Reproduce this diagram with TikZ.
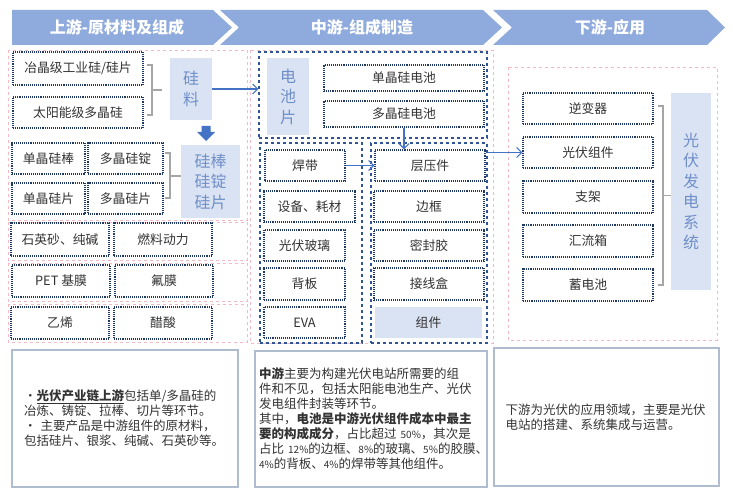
\documentclass[tikz,border=0pt]{standalone}
\usepackage{fontspec}
\setmainfont{Noto Sans CJK SC}
\usetikzlibrary{arrows.meta}

\definecolor{bannerblue}{HTML}{8FAADC}
\definecolor{tagfill}{HTML}{DAE3F3}
\definecolor{tagtext}{HTML}{6F8FC8}
\definecolor{navydot}{HTML}{203864}
\definecolor{navydash}{HTML}{2F5597}
\definecolor{zonepink}{HTML}{F4B9C5}
\definecolor{bracegray}{HTML}{A6A6A6}
\definecolor{flowblue}{HTML}{4472C4}
\definecolor{notegray}{HTML}{B0BDD0}
\definecolor{inkgray}{HTML}{333333}

\newcommand{\pct}[1]{{\fontsize{10}{12}\selectfont #1}}

\begin{document}
\begin{tikzpicture}[x=1pt,y=-1pt,
    wh/.style 2 args={minimum width=#1pt, minimum height=#2pt},
    head/.style={text=white, font=\fontsize{16}{18}\selectfont\bfseries},
    item/.style={draw=navydot, densely dotted, line width=1.1pt, inner sep=0pt, text=inkgray, font=\fontsize{12.8}{15}\selectfont},
    tag/.style={fill=tagfill, inner sep=0pt, align=center, text=tagtext, font=\fontsize{16}{20.5}\selectfont},
    group/.style={draw=navydash, dashed, line width=1.1pt, inner sep=0pt},
    zone/.style={draw=zonepink, dashed, line width=0.8pt},
    brace/.style={draw=bracegray, line width=1.4pt},
    flow/.style={draw=flowblue, line width=1.2pt, -{Straight Barb[length=5pt,width=10pt]}},
    note/.style={draw=notegray, line width=1.3pt, inner sep=0pt, align=left, text=inkgray, font=\fontsize{12.5}{15}\selectfont}
]

    \useasboundingbox (0,0) rectangle (733,497);

    \def \btop {10}
    \def \bmid {27.5}
    \def \bbot {45}

    % Banners
    \fill[bannerblue] (12,\btop) -- (213,\btop) -- (232,\bmid) -- (213,\bbot) -- (12,\bbot) -- cycle;
    \fill[bannerblue] (220,\btop) -- (483,\btop) -- (502,\bmid) -- (483,\bbot) -- (220,\bbot) -- (239,\bmid) -- cycle;
    \fill[bannerblue] (493,\btop) -- (707,\btop) -- (725,\bmid) -- (707,\bbot) -- (493,\bbot) -- (512,\bmid) -- cycle;
    \node[head] (up) at (117,\bmid) {上游-原材料及组成};
    \node[head] (mid) at (362,\bmid) {中游-组成制造};
    \node[head] (down) at (610,\bmid) {下游-应用};

    % Upstream: pink zones
    \draw[zone] (8,50) rectangle (247,220);
    \draw[zone] (8,222) rectangle (247,260);
    \draw[zone] (8,263) rectangle (247,301);
    \draw[zone] (8,304) rectangle (247,342);

    % Upstream: silicon
    \node[item, wh={130}{33}] (gy) at (78,68.5) {冶晶级工业硅/硅片};
    \node[item, wh={130}{31}] (tyn) at (78,112.5) {太阳能级多晶硅};
    \node[tag, wh={42}{62}] (gl) at (191,89) {硅\\料};
    \draw[brace] (147,65) -- (152,65) -- (152,115) -- (147,115);
    \draw[brace] (152,90) -- (162,90);

    \fill[flowblue] (201.5,126) -- (210.5,126) -- (210.5,132) -- (215,132) -- (206,141) -- (197,132) -- (201.5,132) -- cycle;

    \node[item, wh={73}{31}] (dgb) at (48.5,158.5) {单晶硅棒};
    \node[item, wh={75}{31}] (dgd) at (125.5,158.5) {多晶硅锭};
    \node[item, wh={73}{31}] (dgp) at (48.5,198.5) {单晶硅片};
    \node[item, wh={75}{31}] (dgq) at (125.5,198.5) {多晶硅片};
    \node[tag, wh={59}{73}] (gbd) at (210.5,181.5) {硅棒\\硅锭\\硅片};
    \draw[brace] (165,153) -- (170,153) -- (170,198) -- (165,198);
    \draw[brace] (170,176) -- (181,176);

    % Upstream: other materials
    \node[item, wh={98}{33}] (sy) at (60,239.5) {石英砂、纯碱};
    \node[item, wh={98}{33}] (rl) at (163,239.5) {燃料动力};
    \node[item, wh={98}{32}] (pet) at (61,281) {PET 基膜};
    \node[item, wh={98}{32}] (fm) at (164,281) {氟膜};
    \node[item, wh={98}{32}] (yx) at (60,323) {乙烯};
    \node[item, wh={98}{32}] (cs) at (163,323) {醋酸};

    % Midstream
    \draw[zone] (250,50) rectangle (493,343);
    \node[group, wh={228}{86}] (cellgrp) at (373,95) {};
    \node[group, wh={102}{200}] (matgrp) at (311,243) {};
    \node[group, wh={116}{200}] (modgrp) at (429,243) {};

    \node[tag, wh={42}{77}] (dcp) at (288,96.5) {电\\池\\片};
    \node[item, wh={160}{26}] (djc) at (404,78) {单晶硅电池};
    \node[item, wh={160}{26}] (dpc) at (404,114) {多晶硅电池};

    \node[item, wh={80}{31}] (hd) at (305,165.5) {焊带};
    \node[item, wh={91}{31}] (sb) at (309.5,206.5) {设备、耗材};
    \node[item, wh={81}{31}] (gfbl) at (304.5,245.5) {光伏玻璃};
    \node[item, wh={81}{32}] (bb) at (304.5,284) {背板};
    \node[item, wh={81}{31}] (eva) at (304.5,322.5) {EVA};

    \node[item, wh={110}{31}] (cyj) at (430,165.5) {层压件};
    \node[item, wh={110}{31}] (bk) at (429,206.5) {边框};
    \node[item, wh={110}{31}] (mfj) at (429,245.5) {密封胶};
    \node[item, wh={110}{32}] (jxh) at (429,284) {接线盒};
    \node[fill=tagfill, inner sep=0pt, wh={107}{31}, text=inkgray, font=\fontsize{12.8}{15}\selectfont] (zj) at (428.5,322.5) {组件};

    % Downstream
    \draw[zone] (508,67) rectangle (717,340);
    \node[item, wh={130}{31}] (nbq) at (588,108.5) {逆变器};
    \node[item, wh={130}{31}] (gfzj) at (588,152.5) {光伏组件};
    \node[item, wh={130}{32}] (zjia) at (588,197) {支架};
    \node[item, wh={130}{32}] (hlx) at (588,241) {汇流箱};
    \node[item, wh={130}{32}] (xdc) at (588,285) {蓄电池};
    \node[tag, wh={40}{197}] (gffd) at (691,191.5) {光\\伏\\发\\电\\系\\统};
    \draw[brace] (658,106) -- (663,106) -- (663,285) -- (658,285);
    \draw[brace] (663,195.5) -- (671,195.5);

    % Flow arrows
    \draw[flow] (gl.east) -- (gl.east -| cellgrp.west);
    \draw[flow] (dpc.south) -- (dpc.south |- cyj.north);
    \draw[flow] (hd.east) -- (cyj.west);
    \draw[flow] (modgrp.east |- gfzj.west) -- (gfzj.west);

    % Notes
    \node[note, wh={226}{137}, text width=202pt] (upnote) at (125,418.5) {・\underline{\textbf{光伏产业链上游}}包括单/多晶硅的\\冶炼、铸锭、拉棒、切片等环节。\\・\ 主要产品是中游组件的原材料，\\包括硅片、银浆、纯碱、石英砂等。};
    \node[note, wh={232}{136}, text width=224pt] (midnote) at (371,419) {\textbf{中游}主要为构建光伏电站所需要的组\\件和不见，包括太阳能电池生产、光伏\\发电组件封装等环节。\\其中，\textbf{电池是中游光伏组件成本中最主}\\\textbf{要的构成成分}，占比超过~\pct{50\%}，其次是\\占比~\pct{12\%}的边框、\pct{8\%}的玻璃、\pct{5\%}的胶膜、\\\pct{4\%}的背板、\pct{4\%}的焊带等其他组件。};
    \node[note, wh={225}{138}, text width=202pt] (downnote) at (606.5,417) {下游为光伏的应用领域，主要是光伏\\电站的搭建、系统集成与运营。};

\end{tikzpicture}
\end{document}
